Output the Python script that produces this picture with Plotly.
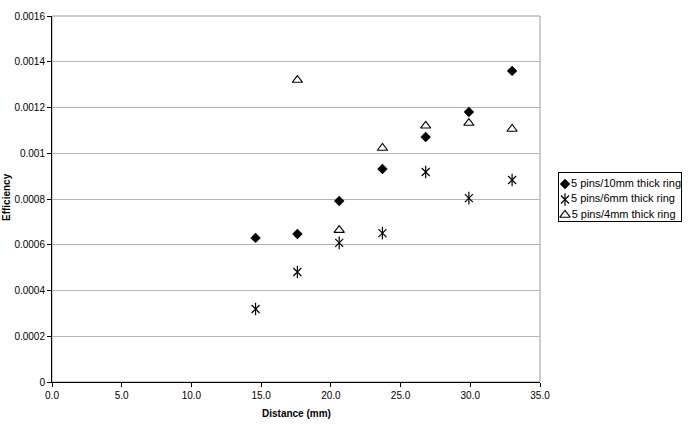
import plotly.graph_objects as go

distance = [14.6, 17.6, 20.6, 23.7, 26.8, 29.9, 33.0]
eff_10mm = [0.00063, 0.000647, 0.000791, 0.000931, 0.001071, 0.00118, 0.00136]
eff_6mm = [0.000319, 0.000481, 0.000608, 0.000651, 0.000918, 0.000804, 0.000883]
distance_4mm = [17.6, 20.6, 23.7, 26.8, 29.9, 33.0]
eff_4mm = [0.00132, 0.000664, 0.001023, 0.00112, 0.001132, 0.001106]

series_names = ["5 pins/10mm thick ring", "5 pins/6mm thick ring", "5 pins/4mm thick ring"]

y_ticks = [0, 0.0002, 0.0004, 0.0006, 0.0008, 0.001, 0.0012, 0.0014, 0.0016]
y_ticktext = ["0", "0.0002", "0.0004", "0.0006", "0.0008", "0.001", "0.0012", "0.0014", "0.0016"]
x_ticks = [0, 5, 10, 15, 20, 25, 30, 35]

font = "Liberation Sans, Arial, sans-serif"

diamond = dict(symbol="diamond", size=8, color="black")
star_x = dict(symbol="x-thin-open", size=8, color="black", line=dict(width=1.2, color="black"))
star_v = dict(symbol="line-ns-open", size=9, color="black", line=dict(width=1.2, color="black"))
tri = dict(symbol="triangle-up-open", size=9, color="black", line=dict(width=1.1, color="black"))

fig = go.Figure()
# data
fig.add_trace(go.Scatter(x=distance, y=eff_10mm, mode="markers", name=series_names[0], marker=diamond))
fig.add_trace(go.Scatter(x=distance, y=eff_6mm, mode="markers", name=series_names[1], marker=star_x))
fig.add_trace(go.Scatter(x=distance, y=eff_6mm, mode="markers", name=series_names[1], marker=star_v))
fig.add_trace(go.Scatter(x=distance_4mm, y=eff_4mm, mode="markers", name=series_names[2], marker=tri))

# legend drawn on a small auxiliary axis (row index = legend order)
legend_markers = [[diamond], [star_x, star_v], [tri]]
for row, (name, mks) in enumerate(zip(series_names, legend_markers)):
    for i, mk in enumerate(mks):
        fig.add_trace(go.Scatter(x=[0], y=[row], mode="markers+text" if i == 0 else "markers",
                                 text=[name] if i == 0 else None, textposition="middle right",
                                 textfont=dict(size=11, family=font, color="black"),
                                 marker=mk, xaxis="x2", yaxis="y2", hoverinfo="skip",
                                 cliponaxis=False))

W, H = 688, 424
ml, mr, mt, mb = 52, 6, 16, 42
pw, ph = W - ml - mr, H - mt - mb

def px_x(p):
    return (p - ml) / pw

def px_y(p):
    return (H - mb - p) / ph

fig.update_layout(
    width=W, height=H,
    margin=dict(l=ml, r=mr, t=mt, b=mb, autoexpand=False),
    paper_bgcolor="white", plot_bgcolor="white",
    font=dict(family=font, size=10, color="black"),
    showlegend=False,
    xaxis=dict(domain=[0, px_x(540)], range=[0, 35], tickvals=x_ticks, tickformat=".1f",
               showgrid=False, zeroline=False, showline=True, linecolor="black", linewidth=1,
               ticks="outside", ticklen=4, tickcolor="black", tickfont=dict(size=10),
               automargin=False),
    yaxis=dict(range=[0, 0.0016], tickvals=y_ticks, ticktext=y_ticktext,
               showgrid=True, gridcolor="#b4b4b4", gridwidth=1, zeroline=False,
               showline=True, linecolor="black", linewidth=1,
               ticks="outside", ticklen=4, tickcolor="black", tickfont=dict(size=10),
               automargin=False),
    xaxis2=dict(domain=[px_x(559), px_x(681)], range=[-6, 116], anchor="y2",
                showgrid=False, zeroline=False, showticklabels=False, ticks="",
                showline=True, mirror=True, linecolor="black", linewidth=1, automargin=False),
    yaxis2=dict(domain=[px_y(221), px_y(173)], range=[2.39, -0.71], anchor="x2",
                showgrid=False, zeroline=False, showticklabels=False, ticks="",
                showline=True, mirror=True, linecolor="black", linewidth=1, automargin=False),
    shapes=[dict(type="rect", xref="x domain", yref="y domain", x0=0, y0=0, x1=1, y1=1,
                 line=dict(color="#9a9a9a", width=1), layer="below")],
    annotations=[
        dict(text="<b>Distance (mm)</b>", xref="x domain", yref="paper", x=0.5, y=px_y(413),
             xanchor="center", yanchor="middle", showarrow=False, font=dict(size=10)),
        dict(text="<b>Efficiency</b>", xref="paper", yref="paper", x=px_x(6), y=px_y(197),
             textangle=-90, xanchor="center", yanchor="middle", showarrow=False, font=dict(size=10)),
    ],
)

fig.write_html("out.html")
